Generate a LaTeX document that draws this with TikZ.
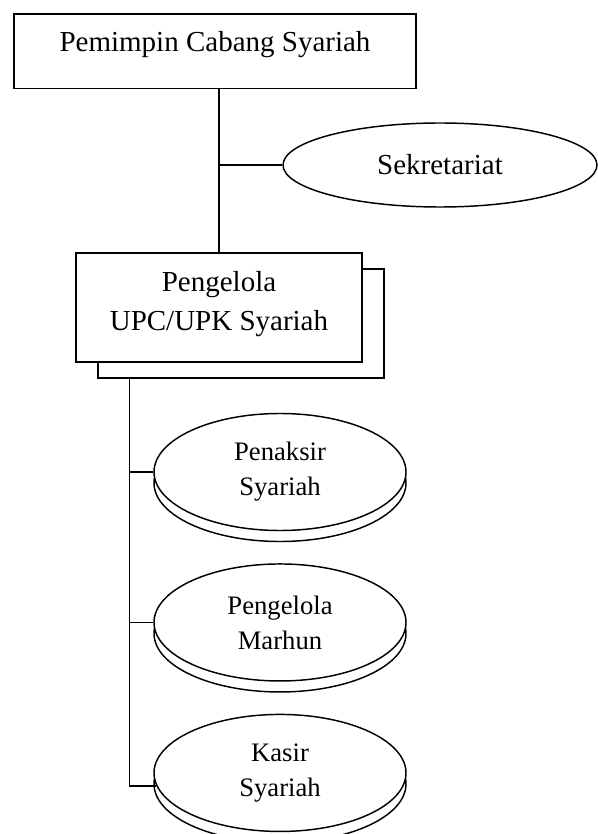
\documentclass[tikz,border=0pt]{standalone}
\usepackage{fontspec}
\setmainfont{Liberation Serif}
\usetikzlibrary{positioning}
\usetikzlibrary{shapes.geometric}
\usetikzlibrary{shadows}

\begin{document}
\begin{tikzpicture}[
x=0.75pt, y=-0.75pt,
node distance=24pt,
headnode/.style={rectangle, draw, line width=1.1pt, minimum width=301.5pt, inner sep=0pt, text height=28pt, text depth=27.9pt, font=\fontsize{21.75pt}{28.7pt}\selectfont},
unitnode/.style={rectangle, draw, fill=white, line width=1.1pt, minimum width=214.5pt, inner sep=0pt, align=center, text height=57.75pt, text depth=24pt, font=\fontsize{21.75pt}{28.7pt}\selectfont, copy shadow={shadow xshift=16.5pt, shadow yshift=-12pt}},
sidenode/.style={ellipse, draw, line width=1.1pt, minimum width=235.5pt, minimum height=63pt, inner sep=0pt, font=\fontsize{21.75pt}{26pt}\selectfont},
staffnode/.style={ellipse, draw, fill=white, line width=1.1pt, minimum width=189pt, minimum height=87.75pt, inner sep=0pt, align=center, font=\fontsize{20pt}{26.25pt}\selectfont, copy shadow={shadow xshift=0pt, shadow yshift=-8.25pt}},
edge/.style={line width=1.1pt}
]
\useasboundingbox (0,0) rectangle (597,834);

%Nodes
\node[headnode]        (pimpinan)    at (215,51.5)     {Pemimpin Cabang Syariah};
\node[sidenode]        (sekretariat) at (440,165)      {Sekretariat};
\node[unitnode]        (pengelola)   at (219,307.5)    {Pengelola\\UPC/UPK Syariah};
\node[staffnode]       (penaksir)    at (280,472)      {Penaksir\\Syariah};
\node[staffnode]       (marhun)      [below=of penaksir] {Pengelola\\Marhun};
\node[staffnode]       (kasir)       [below=of marhun]   {Kasir\\Syariah};
\coordinate (spine) at ([xshift=40.5pt,yshift=-12pt]pengelola.south west);

%Edges
\draw[edge] (pengelola.north) -- (pengelola.north |- pimpinan.south);
\draw[edge] (sekretariat.west) -- (sekretariat.west -| pengelola.north);
\draw[edge] (spine) |- (penaksir.west);
\draw[edge] (spine) |- (marhun.west);
\draw[edge] (spine) |- (kasir.186);

\end{tikzpicture}
\end{document}
